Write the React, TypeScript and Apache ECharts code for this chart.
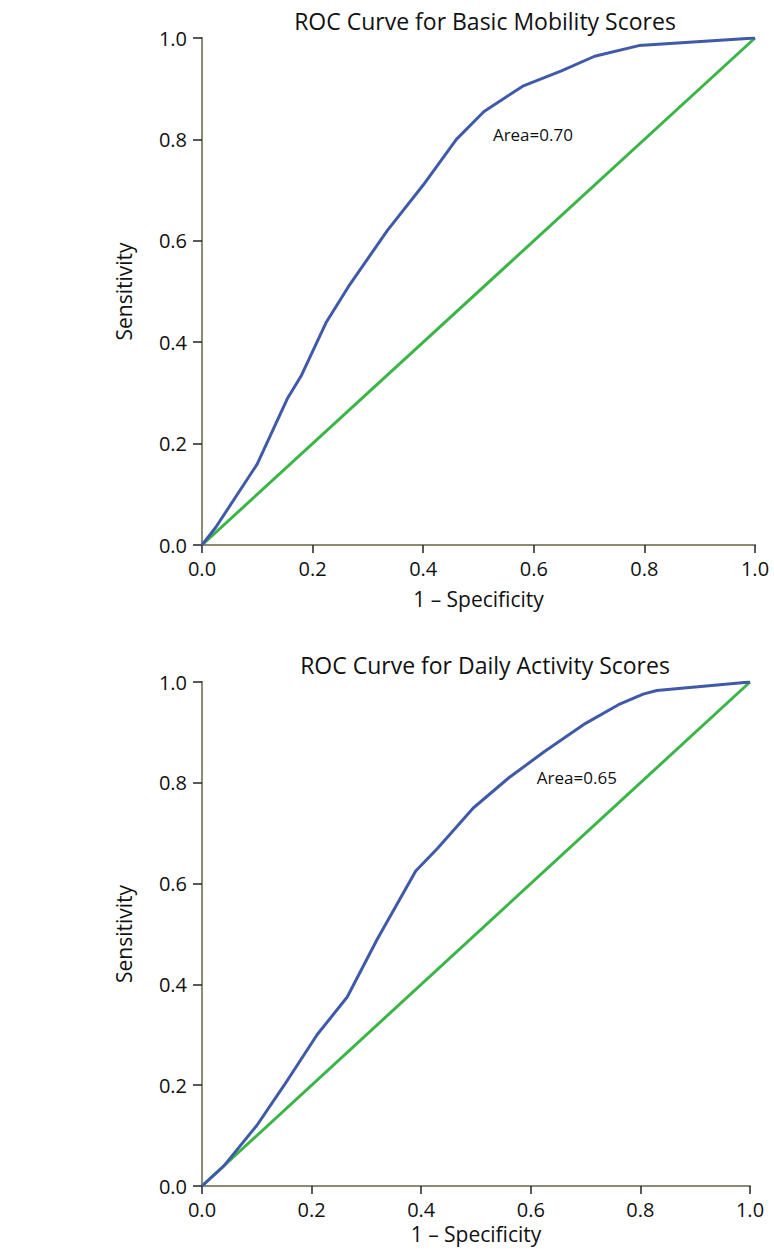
import React, { useEffect, useRef } from "react";
import * as echarts from "echarts";

const titles = ["ROC Curve for Basic Mobility Scores", "ROC Curve for Daily Activity Scores"];
const areaLabels = ["Area=0.70", "Area=0.65"];
const tickLabels = ["0.0", "0.2", "0.4", "0.6", "0.8", "1.0"];
const xName = "1 – Specificity";
const yName = "Sensitivity";

const basicMobilityRoc: [number, number][] = [
  [0, 0], [0.025, 0.035], [0.1, 0.16], [0.155, 0.29], [0.18, 0.335], [0.225, 0.44],
  [0.265, 0.51], [0.335, 0.62], [0.4, 0.71], [0.46, 0.8], [0.51, 0.855], [0.58, 0.905],
  [0.65, 0.935], [0.71, 0.964], [0.79, 0.985], [1, 1],
];
const dailyActivityRoc: [number, number][] = [
  [0, 0], [0.04, 0.04], [0.1, 0.12], [0.15, 0.2], [0.21, 0.3], [0.265, 0.375],
  [0.32, 0.49], [0.39, 0.625], [0.43, 0.67], [0.495, 0.75], [0.56, 0.81],
  [0.625, 0.862], [0.7, 0.918], [0.76, 0.955], [0.805, 0.976], [0.83, 0.983], [1, 1],
];
const referenceLine: [number, number][] = [[0, 0], [1, 1]];
const areaPositions: [number, number][] = [[0.526, 0.81], [0.611, 0.81]];

const FONT = "'Open Sans', sans-serif";
const BLUE = "#3f5aa8";
const GREEN = "#3cb548";
const AXIS = "#222222";
const BORDER = "#8a8a76";

const grids = [
  { left: 202, top: 38, width: 553, height: 507 },
  { left: 202, top: 682, width: 548, height: 504 },
];
const xNameGaps = [43, 37];

export default function App() {
  const ref = useRef<HTMLDivElement>(null);
  useEffect(() => {
    if (!ref.current) return;
    const chart = echarts.init(ref.current, undefined, { renderer: "svg" });
    const xAxes: any[] = [];
    const yAxes: any[] = [];
    const series: any[] = [];
    const titleOpts: any[] = [];
    const rocData = [basicMobilityRoc, dailyActivityRoc];
    grids.forEach((g, i) => {
      titleOpts.push({
        text: titles[i],
        left: 480,
        top: g.top - 34,
        textAlign: "center",
        textStyle: { fontFamily: FONT, fontSize: 23, fontWeight: "normal", color: "#111" },
      });
      xAxes.push({
        type: "value", gridIndex: i, min: 0, max: 1, interval: 0.2, position: "bottom",
        name: xName, nameLocation: "middle", nameGap: xNameGaps[i],
        nameTextStyle: { fontFamily: FONT, fontSize: 21, lineHeight: 21, color: "#111" },
        axisLine: { show: true, lineStyle: { color: AXIS, width: 1.5 } },
        axisTick: { show: true, length: 8, inside: false, lineStyle: { color: AXIS, width: 1.5 } },
        axisLabel: { fontFamily: FONT, fontSize: 20, color: "#111", margin: 13,
          formatter: (v: number) => tickLabels[Math.round(v * 5)] },
        splitLine: { show: false },
      });
      xAxes.push({
        type: "value", gridIndex: i, min: 0, max: 1, position: "top",
        axisLine: { show: true, lineStyle: { color: BORDER, width: 2 } },
        axisTick: { show: false }, axisLabel: { show: false }, splitLine: { show: false },
      });
      yAxes.push({
        type: "value", gridIndex: i, min: 0, max: 1, interval: 0.2, position: "left",
        name: yName, nameLocation: "middle", nameGap: 68,
        nameTextStyle: { fontFamily: FONT, fontSize: 21, color: "#111" },
        axisLine: { show: true, lineStyle: { color: AXIS, width: 1.5 } },
        axisTick: { show: true, length: 9, inside: false, lineStyle: { color: AXIS, width: 1.5 } },
        axisLabel: { fontFamily: FONT, fontSize: 20, color: "#111", margin: 15,
          formatter: (v: number) => tickLabels[Math.round(v * 5)] },
        splitLine: { show: false },
      });
      yAxes.push({
        type: "value", gridIndex: i, min: 0, max: 1, position: "right",
        axisLine: { show: true, lineStyle: { color: BORDER, width: 2 } },
        axisTick: { show: false }, axisLabel: { show: false }, splitLine: { show: false },
      });
      series.push({
        type: "line", xAxisIndex: i * 2, yAxisIndex: i * 2, data: referenceLine,
        symbol: "none", lineStyle: { color: GREEN, width: 3 }, z: 3,
      });
      series.push({
        type: "line", xAxisIndex: i * 2, yAxisIndex: i * 2, data: rocData[i],
        symbol: "none", lineStyle: { color: BLUE, width: 3 }, z: 4,
        markPoint: {
          symbol: "circle", symbolSize: 0,
          data: [{ coord: areaPositions[i], value: areaLabels[i] }],
          label: { show: true, position: "right", distance: 0, formatter: areaLabels[i],
            fontFamily: FONT, fontSize: 17, color: "#111" },
        },
      });
    });
    chart.setOption({
      animation: false,
      backgroundColor: "#ffffff",
      title: titleOpts,
      grid: grids.map((g) => ({ ...g })),
      xAxis: xAxes,
      yAxis: yAxes,
      series,
    });
    return () => chart.dispose();
  }, []);
  return (
    <div
      ref={ref}
      style={{ position: "absolute", left: 0, top: 0, width: 774, height: 1250 }}
    />
  );
}
